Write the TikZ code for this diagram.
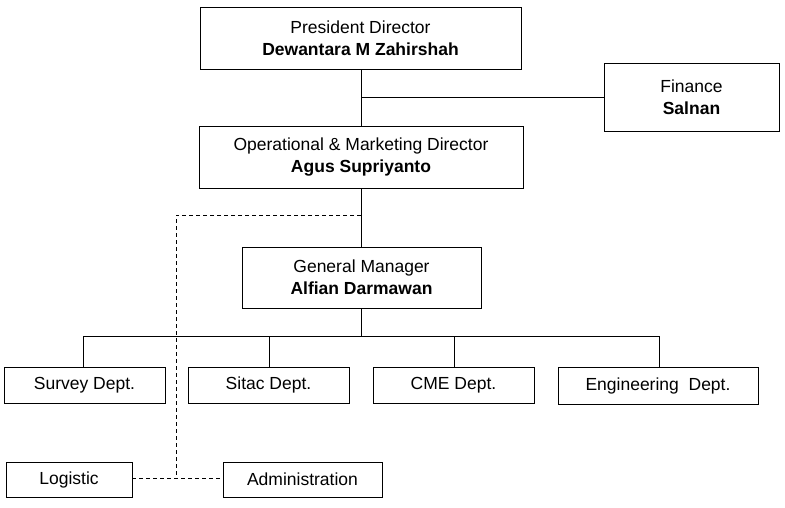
\documentclass[tikz,border=0pt]{standalone}
\usepackage{fontspec}
\setmainfont{Liberation Sans}
\begin{document}
\begin{tikzpicture}[x=1pt,y=-1pt,
 box/.style={draw,line width=0.8pt,inner sep=0pt,align=center,font=\fontsize{17.5}{22}\selectfont},
 ln/.style={line width=0.8pt},
 dl/.style={line width=0.8pt,dash pattern=on 4pt off 3pt}]
\useasboundingbox (0,0) rectangle (785,507);
\fill[white] (0,0) rectangle (785,507);
\node[box,minimum width=321pt,minimum height=62pt] (pd) at (360.5,38) {President Director\\\textbf{Dewantara M Zahirshah}};
\node[box,minimum width=175pt,minimum height=68pt] (fin) at (691.5,97) {Finance\\\textbf{Salnan}};
\node[box,minimum width=324pt,minimum height=62pt] (od) at (361,157) {Operational \& Marketing Director\\\textbf{Agus Supriyanto}};
\node[box,minimum width=239pt,minimum height=61pt] (gm) at (361.5,277.5) {General Manager\\\textbf{Alfian Darmawan}};
\node[box,minimum width=161pt,minimum height=36pt] (sv) at (84.5,385) {Survey Dept.};
\node[box,minimum width=161pt,minimum height=36pt] (st) at (268.5,385) {Sitac Dept.};
\node[box,minimum width=161pt,minimum height=36pt] (cme) at (453.5,385) {CME Dept.};
\node[box,minimum width=200pt,minimum height=37pt] (eng) at (658,385.5) {Engineering\ \ Dept.};
\node[box,minimum width=126pt,minimum height=35pt] (lg) at (69,479.5) {Logistic};
\node[box,minimum width=159pt,minimum height=35pt] (ad) at (302.5,479.5) {Administration};
\coordinate (j1) at (361,97);
\coordinate (j2) at (361,215);
\coordinate (j3) at (176,478);
\coordinate (b) at (361,336);
\draw[ln] (pd.south -| j1) -- (od.north -| j1);
\draw[ln] (j1) -- (fin.west |- j1);
\draw[ln] (od.south -| j1) -- (gm.north -| j1);
\draw[ln] (gm.south -| j1) -- (b);
\draw[ln] (sv.north -| 83,0) -- (83,336) -- (659,336) -- (eng.north -| 659,0);
\draw[ln] (269,336) -- (st.north -| 269,0);
\draw[ln] (454,336) -- (cme.north -| 454,0);
\draw[dl] (j2) -- (176,215) -- (j3);
\draw[dl] (lg.east |- j3) -- (ad.west |- j3);
\end{tikzpicture}
\end{document}
